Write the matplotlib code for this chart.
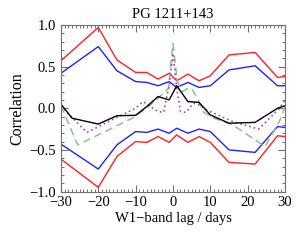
import numpy as np
import matplotlib
matplotlib.use('Agg')
import matplotlib.pyplot as plt
from matplotlib.ticker import MultipleLocator

plt.rcParams['font.family'] = ['Liberation Serif', 'DejaVu Serif']
plt.rcParams['font.size'] = 10
plt.rcParams['axes.unicode_minus'] = True

# lags (days) for the confidence bands
lag_band = [-30, -20, -15, -10, -7, -4, -1, 1, 4, 7, 10, 15, 22, 28, 30]
red_hi = [0.57, 0.97, 0.58, 0.43, 0.43, 0.35, 0.42, 0.33, 0.41, 0.33, 0.39, 0.64, 0.67, 0.37, 0.38]
blue_hi = [0.42, 0.74, 0.45, 0.32, 0.31, 0.27, 0.32, 0.25, 0.31, 0.25, 0.27, 0.46, 0.51, 0.27, 0.27]
blue_lo = [-0.43, -0.73, -0.44, -0.28, -0.29, -0.25, -0.30, -0.24, -0.30, -0.25, -0.28, -0.50, -0.53, -0.22, -0.23]
red_lo = [-0.61, -0.95, -0.58, -0.40, -0.41, -0.34, -0.41, -0.32, -0.41, -0.34, -0.41, -0.65, -0.67, -0.33, -0.34]

# cross-correlation
lag_ccf = [-30, -27, -20, -15, -10, -7, -4, -1, 1, 4, 7, 10, 15, 22, 28, 30]
ccf = [0.05, -0.12, -0.19, -0.09, -0.085, 0.02, 0.14, 0.10, 0.27, 0.08, 0.07, -0.08, -0.18, -0.17, 0.0, 0.03]

# dotted (purple) and dashed (green) curves
lag_dot = [-30, -26, -23, -15, -10, -8, -6, -4, -2.5, -1, 0, 1, 2, 3.5, 5.5, 7, 9, 11, 16, 23, 28.5, 30]
dot = [0.03, -0.16, -0.29, -0.11, 0.0, 0.08, 0.02, -0.04, -0.05, 0.28, 0.66, 0.25, -0.04, -0.05, 0.06, 0.04, -0.02, -0.06, -0.16, -0.25, 0.0, 0.10]
lag_dash = [-30, -25.5, -10, -9, -6, -3.5, -1.2, 0, 1.2, 2.5, 4, 5, 6.5, 8, 11, 16, 22, 24.7, 28.7, 30]
dash = [0.03, -0.44, -0.10, -0.06, 0.04, 0.14, 0.24, 0.78, 0.32, 0.20, 0.24, 0.24, 0.12, -0.04, -0.12, -0.20, -0.38, -0.46, -0.14, 0.02]

fig = plt.figure(figsize=(3.0, 2.4), dpi=100)
ax = fig.add_axes([0.203, 0.202, 0.747, 0.694])

ax.plot(lag_band, red_hi, color='#ff2020', lw=1.0)
ax.plot(lag_band, red_lo, color='#ff2020', lw=1.0)
ax.plot(lag_band, blue_hi, color='#2020ff', lw=1.0)
ax.plot(lag_band, blue_lo, color='#2020ff', lw=1.0)
ax.plot(lag_dash, dash, color='#90c090', lw=1.1, ls=(0, (5, 3)))
ax.plot(lag_dot, dot, color='#b040c0', lw=1.2, ls=(0, (1, 1.8)))
ax.plot(lag_ccf, ccf, color='black', lw=1.0)

ax.set_xlim(-30, 30)
ax.set_ylim(-1.0, 1.0)
ax.xaxis.set_major_locator(MultipleLocator(10))
ax.xaxis.set_minor_locator(MultipleLocator(1))
ax.yaxis.set_major_locator(MultipleLocator(0.5))
ax.yaxis.set_minor_locator(MultipleLocator(0.1))
ax.yaxis.set_major_formatter(plt.FuncFormatter(lambda v, p: f'{v:.1f}'.replace('-', '\u2212')))

for s in ax.spines.values():
    s.set_color('#707070')
ax.tick_params(which='both', direction='in', top=True, right=True, colors='#707070', labelcolor='black')
ax.tick_params(which='major', length=5, width=0.8)
ax.tick_params(which='minor', length=2.5, width=0.7)
ax.tick_params(labelsize=10.5)

ax.set_title('PG 1211+143', fontsize=10.5, pad=5)
ax.set_xlabel('W1\u2212band lag / days', fontsize=10.5, labelpad=2)
ax.set_ylabel('Correlation', fontsize=11.5, labelpad=3)

fig.savefig('out.png', dpi=100)
